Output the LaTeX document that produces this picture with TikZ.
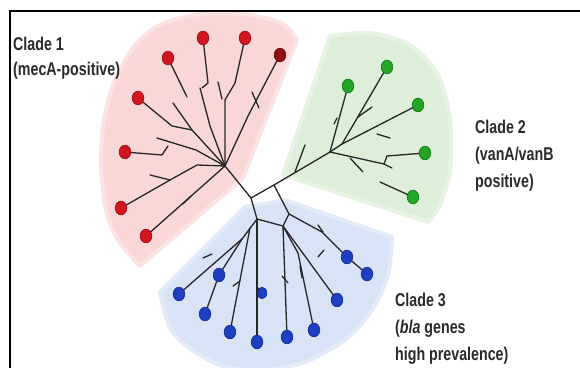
\documentclass[tikz,border=0pt]{standalone}
\usepackage{fontspec}
\newfontfamily\labelfont[FakeStretch=0.77]{Liberation Sans}
\usetikzlibrary{shapes.geometric}
\definecolor{pinkbg}{HTML}{F9D7D7}
\definecolor{greenbg}{HTML}{DDEFD9}
\definecolor{bluebg}{HTML}{D8E3F5}
\definecolor{treec}{HTML}{262626}
\definecolor{leafred}{HTML}{D3161F}
\definecolor{leafredd}{HTML}{A20F16}
\definecolor{leafdark}{HTML}{8E1014}
\definecolor{leafgreen}{HTML}{25A526}
\definecolor{leafgreend}{HTML}{15801A}
\definecolor{leafblue}{HTML}{1E3FC2}
\definecolor{leafblued}{HTML}{16309A}
\definecolor{labelc}{HTML}{2A2A2A}
\begin{document}
\begin{tikzpicture}[x=1pt,y=-1pt,
  branch/.style={draw=treec, line width=1.3pt, line cap=round, line join=round},
  leaf/.style={ellipse, inner sep=0pt, minimum width=11.5pt, minimum height=13.5pt, line width=0.8pt},
  redleaf/.style={leaf, fill=leafred, draw=leafredd},
  darkleaf/.style={leaf, fill=leafdark, draw=leafdark!80!black},
  greenleaf/.style={leaf, fill=leafgreen, draw=leafgreend},
  blueleaf/.style={leaf, fill=leafblue, draw=leafblued},
  region/.style={line width=4pt, line join=round},
  cladelabel/.style={font=\labelfont\bfseries\fontsize{18.5}{27}\selectfont, align=left, anchor=base west, inner sep=0pt, text=labelc}]
\useasboundingbox (0,0) rectangle (580,367);
\fill[white] (0,0) rectangle (580,367);
% clade regions
\path[region, fill=pinkbg, draw=pinkbg!70!white] (243,178) -- (297,40) -- plot[smooth] coordinates {(297,40) (283,24) (250,15) (200,14) (160,25) (135,45) (115,80) (104,120) (101,165) (106,210) (118,240) (140,266)} -- cycle;
\path[region, fill=greenbg, draw=greenbg!70!white] (283,175) -- (330,36) -- plot[smooth] coordinates {(330,36) (370,33) (410,45) (438,75) (450,120) (450,170) (440,205) (428,222)} -- cycle;
\path[region, fill=bluebg, draw=bluebg!70!white] (245,207) -- (285,200) -- (392,237) -- plot[smooth] coordinates {(392,237) (388,275) (372,310) (345,340) (305,362) (265,370) (225,367) (192,350) (170,328) (160,292)} -- cycle;
% frame
\draw[line width=2pt, black, line cap=rect] (10,368) -- (10,10.5) -- (581,10.5);
% leaves
\node[redleaf] (r1) at (203,38) {};
\node[redleaf] (r2) at (245,38) {};
\node[darkleaf] (r3) at (280,55) {};
\node[redleaf] (r4) at (168,58) {};
\node[redleaf] (r5) at (138,98) {};
\node[redleaf] (r6) at (125,152) {};
\node[redleaf] (r7) at (121,208) {};
\node[redleaf] (r8) at (146,236) {};
\node[greenleaf] (g1) at (348,86) {};
\node[greenleaf] (g2) at (387,67) {};
\node[greenleaf] (g3) at (418,105) {};
\node[greenleaf] (g4) at (425,153) {};
\node[greenleaf] (g5) at (413,197) {};
\node[blueleaf] (L1) at (179,294) {};
\node[blueleaf] (L2) at (219,275) {};
\node[blueleaf] (L3) at (205,314) {};
\node[blueleaf] (L4) at (230,332) {};
\node[blueleaf, minimum width=9.5pt, minimum height=11.5pt] (L5) at (262,293) {};
\node[blueleaf] (L6) at (257,342) {};
\node[blueleaf] (L7) at (287,337) {};
\node[blueleaf] (L8) at (314,330) {};
\node[blueleaf] (L9) at (337,300) {};
\node[blueleaf] (L10) at (347,257) {};
\node[blueleaf] (L11) at (367,274) {};
% junctions
\coordinate (R) at (225,166);
\coordinate (A) at (251,198);
\coordinate (E) at (274,185);
\coordinate (G) at (330,152);
\coordinate (B) at (257,219);
\coordinate (C) at (283,226);
\coordinate (D) at (289,214);
% central network
\draw[branch] (R) -- (A) -- (E) -- (G);
\draw[branch] (A) -- (B) -- (C) -- (D) -- (E);
% red clade
\coordinate (ra) at (225,100); \coordinate (rb) at (235,83);
\draw[branch] (R) -- (ra) -- (rb) -- (r2);
\coordinate (rt1) at (218,82); \coordinate (rt2) at (222,99);
\draw[branch] (rt1) -- (rt2);
\coordinate (rc) at (210,126); \coordinate (rd) at (200,88);
\draw[branch] (R) -- (rc) -- (rd);
\coordinate (re) at (208,83); \coordinate (rf) at (202,88);
\draw[branch] (r1) -- (re) -- (rf);
\coordinate (rg) at (248,116);
\draw[branch] (R) -- (rg) -- (r3);
\coordinate (rt3) at (252,92); \coordinate (rt4) at (259,108);
\draw[branch] (rt3) -- (rt4);
\coordinate (rh) at (192,130); \coordinate (ri) at (173,103); \coordinate (rj) at (172,126);
\draw[branch] (R) -- (rh) -- (ri);
\draw[branch] (rh) -- (rj) -- (r5);
\coordinate (rk) at (187,97);
\draw[branch] (r4) -- (rk);
\coordinate (rl) at (196,150); \coordinate (rm) at (157,138);
\draw[branch] (R) -- (rl) -- (rm);
\coordinate (rn) at (162,155); \coordinate (ro) at (168,146);
\draw[branch] (r6) -- (rn) -- (ro);
\coordinate (rp) at (197,165); \coordinate (rq) at (170,180); \coordinate (rr) at (150,175);
\draw[branch] (R) -- (rp) -- (rq) -- (r7);
\draw[branch] (rr) -- (rq);
\draw[branch] (R) -- (r8);
\coordinate (rs) at (183,204); \coordinate (rt) at (191,196);
\draw[branch] (rs) -- (rt);
% green clade
\draw[branch] (G) -- (g1);
\coordinate (ga) at (342,144);
\draw[branch] (G) -- (ga) -- (g2);
\draw[branch] (ga) -- (g3);
\coordinate (gt1) at (358,117); \coordinate (gt2) at (372,107);
\draw[branch] (gt1) -- (gt2);
\coordinate (gt3) at (377,134); \coordinate (gt4) at (390,138);
\draw[branch] (gt3) -- (gt4);
\coordinate (gd) at (384,164); \coordinate (ge) at (392,168); \coordinate (gf) at (387,156);
\draw[branch] (G) -- (gd) -- (ge);
\draw[branch] (gd) -- (gf) -- (g4);
\coordinate (gt5) at (350,158); \coordinate (gt6) at (363,172);
\draw[branch] (gt5) -- (gt6);
\coordinate (gg) at (380,182);
\draw[branch] (gg) -- (g5);
\coordinate (gt7) at (295,172); \coordinate (gt8) at (305,145);
\draw[branch] (gt7) -- (gt8);
\coordinate (gt9) at (337,118); \coordinate (gt10) at (334,124);
\draw[branch] (gt9) -- (gt10);
% blue clade
\coordinate (b1) at (242,239); \coordinate (b2) at (250,228);
\draw[branch] (B) -- (b1) -- (L1);
\draw[branch] (b1) -- (L2);
\draw[branch] (L2) -- (L3);
\draw[branch] (b2) -- (L4);
\coordinate (b3) at (257,287);
\draw[branch] (B) -- (b3) -- (L6);
\draw[branch] (b3) -- (L5);
\draw[branch] (C) -- (L7);
\coordinate (c2) at (298,253);
\draw[branch] (C) -- (c2) -- (L8);
\draw[branch] (C) -- (L9);
\coordinate (c1) at (322,232);
\draw[branch] (D) -- (c1) -- (L10);
\draw[branch] (L10) -- (L11);
\coordinate (bt1) at (203,258); \coordinate (bt2) at (212,254);
\draw[branch] (bt1) -- (bt2);
\coordinate (bt3) at (233,286); \coordinate (bt4) at (240,281);
\draw[branch] (bt3) -- (bt4);
\coordinate (bt5) at (282,276); \coordinate (bt6) at (288,283);
\draw[branch] (bt5) -- (bt6);
\coordinate (bt7) at (300,266); \coordinate (bt8) at (302,278);
\draw[branch] (bt7) -- (bt8);
\coordinate (bt9) at (318,225); \coordinate (bt10) at (323,232);
\draw[branch] (bt9) -- (bt10);
\coordinate (bt11) at (318,257); \coordinate (bt12) at (324,250);
\draw[branch] (bt11) -- (bt12);
% labels (base anchor = baseline of last line)
\node[cladelabel, font=\labelfont\bfseries\fontsize{18.5}{25}\selectfont] (t1) at (13,75) {Clade 1\\(mecA-positive)};
\node[cladelabel] (t2) at (475,187) {Clade 2\\(vanA/vanB\\positive)};
\node[cladelabel] (t3) at (395,360) {Clade 3\\(\textit{bla} genes\\high prevalence)};
\end{tikzpicture}
\end{document}
